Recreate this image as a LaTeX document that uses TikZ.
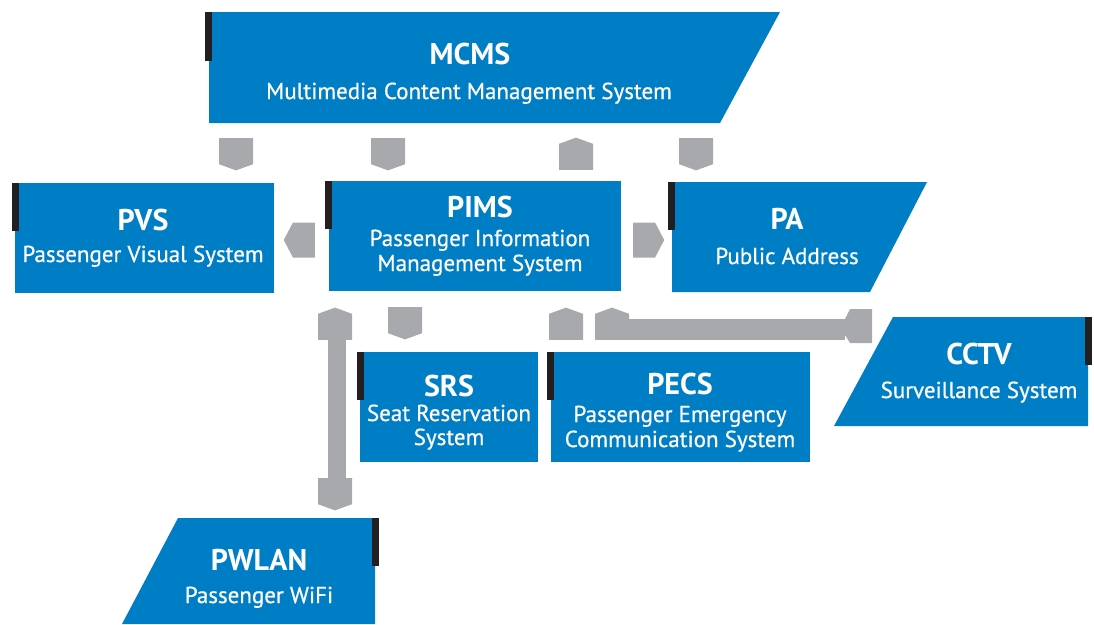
\documentclass[tikz,border=0pt]{standalone}
\usepackage{fontspec}
\setmainfont{PT Sans}
\newfontfamily\medfont{PT Sans}[FakeBold=0.6]
\usetikzlibrary{shapes.symbols,calc}
\definecolor{sysblue}{RGB}{0,126,197}
\definecolor{linkgray}{RGB}{167,169,172}
\definecolor{tabblack}{RGB}{35,31,32}
\tikzset{
  title/.style={anchor=base,text=white,inner sep=0,font=\fontsize{30}{34}\selectfont\bfseries},
  subtitle/.style={anchor=base,text=white,inner sep=0,font=\fontsize{23}{27}\medfont},
  vlink/.style={shape=signal,fill=linkgray,inner sep=0,minimum width=34,minimum height=26,signal pointer angle=140},
  hlink/.style={shape=signal,fill=linkgray,inner sep=0,minimum width=31,minimum height=35,signal pointer angle=125}
}
\begin{document}
\begin{tikzpicture}[x=1pt,y=-1pt]
      \useasboundingbox (0,0) rectangle (1094,624);
      % system boxes
      \fill[sysblue] (209,12) -- (780,12) -- (720,123) -- (209,123) -- cycle;
      \fill[sysblue] (15,183) rectangle (274,293);
      \fill[sysblue] (329,181) rectangle (621,291);
      \fill[sysblue] (672,182) -- (927,182) -- (870,292) -- (672,292) -- cycle;
      \fill[sysblue] (360,352) rectangle (538,462);
      \fill[sysblue] (551,352) rectangle (810,462);
      \fill[sysblue] (893,317) -- (1088,317) -- (1088,426) -- (834,426) -- cycle;
      \fill[sysblue] (178,518) -- (375,518) -- (375,624) -- (122,624) -- cycle;
      \begin{scope}[tabblack]
        \fill (205,12) rectangle (212,61);
        \fill (12,183) rectangle (19,231);
        \fill (325,181) rectangle (332,229);
        \fill (668,182) rectangle (675,230);
        \fill (357,352) rectangle (364,400);
        \fill (547,352) rectangle (554,400);
        \fill (1085,317) rectangle (1092,365);
        \fill (372,518) rectangle (379,566);
      \end{scope}
      % labels
      \node[title] (mcms) at (470,64) {MCMS};
      \node[subtitle] (mcms-sub) at (469,99) {Multimedia Content Management System};
      \node[title] (pvs) at (143,230) {PVS};
      \node[subtitle] (pvs-sub) at (143,262) {Passenger Visual System};
      \node[title] (pims) at (480,217) {PIMS};
      \node[subtitle] (pims-sub1) at (480,246) {Passenger Information};
      \node[subtitle] (pims-sub2) at (480,271) {Management System};
      \node[title] (pa) at (787,229) {PA};
      \node[subtitle] (pa-sub) at (787,264) {Public Address};
      \node[title] (srs) at (449,396) {SRS};
      \node[subtitle] (srs-sub1) at (449,421) {Seat Reservation};
      \node[subtitle] (srs-sub2) at (449,445) {System};
      \node[title] (pecs) at (680,394) {PECS};
      \node[subtitle] (pecs-sub1) at (680,422) {Passenger Emergency};
      \node[subtitle] (pecs-sub2) at (680,447) {Communication System};
      \node[title] (cctv) at (979,364) {CCTV};
      \node[subtitle] (cctv-sub) at (979,398) {Surveillance System};
      \node[title] (pwlan) at (259,570) {PWLAN};
      \node[subtitle] (pwlan-sub) at (259,603) {Passenger WiFi};
      % links
      \node[vlink,signal to=south,anchor=north] (mcms-pvs) at (236,138) {};
      \node[vlink,signal to=south,anchor=north] (mcms-pims) at (388,138) {};
      \node[vlink,signal to=north,anchor=south] (pims-mcms) at (576,170) {};
      \node[vlink,signal to=south,anchor=north] (mcms-pa) at (696,138) {};
      \node[hlink,signal to=west,anchor=east] (pims-pvs) at (315,240) {};
      \node[hlink,signal to=east,anchor=west] (pims-pa) at (633,240) {};
      \node[vlink,signal to=south,anchor=north] (pims-srs) at (405,307) {};
      \node[vlink,signal to=north,anchor=south] (pecs-pims) at (566,340) {};
      \node[vlink,signal to=north,anchor=south] (cctv-pims) at (612,340) {};
      \node[vlink,signal to=north,anchor=south] (pwlan-pims) at (335,340) {};
      \node[vlink,signal to=south,anchor=north] (pims-pwlan) at (335,478) {};
      \coordinate (cctv-cap) at (845,319);
      \fill[linkgray] (pwlan-pims.south) ++(-7,-1) rectangle ($(pims-pwlan.north)+(11,1)$);
      \fill[linkgray] (cctv-pims.south) ++(15,-21) rectangle (cctv-cap |- cctv-pims.south);
      \fill[linkgray] (cctv-cap) -- ++(5,-10) -- ++(22,0) -- ++(0,34) -- ++(-22,0) -- ++(-5,-8) -- cycle;
    \end{tikzpicture}
\end{document}
